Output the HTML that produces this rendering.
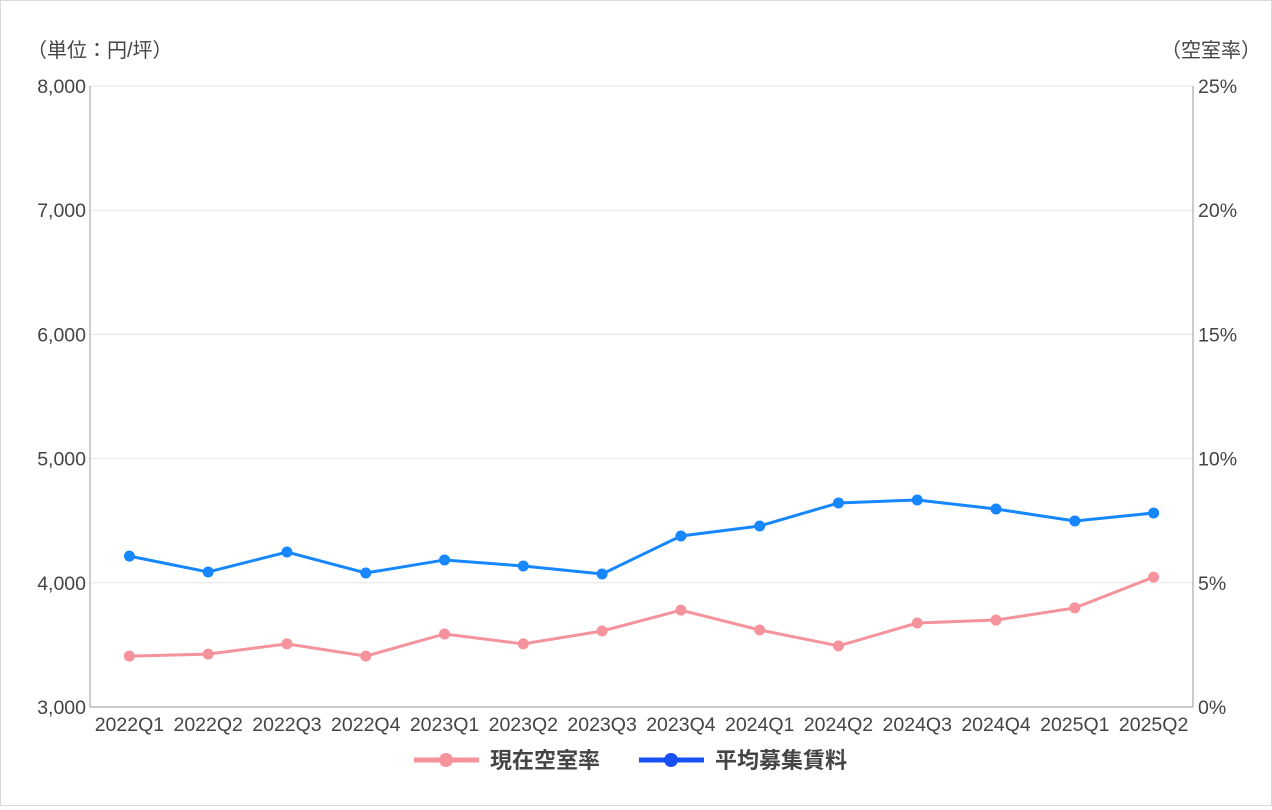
<!DOCTYPE html>
<html><head><meta charset="utf-8"><style>
body{margin:0;background:#fff;}
#wrap{position:relative;width:1270px;height:804px;border:1px solid #d9d9d9;background:#fff;font-family:"Liberation Sans","Noto Sans CJK JP",sans-serif;}
svg text{font-family:"Liberation Sans","Noto Sans CJK JP",sans-serif;}
</style></head><body>
<div id="wrap">
<svg id="chart" width="1270" height="804"></svg>
</div>
<script>
const categories=["2022Q1","2022Q2","2022Q3","2022Q4","2023Q1","2023Q2","2023Q3","2023Q4","2024Q1","2024Q2","2024Q3","2024Q4","2025Q1","2025Q2"];
const rentValues=[4215,4087,4248,4079,4184,4135,4071,4377,4457,4643,4667,4594,4498,4562];
const vacancyValues=[2.05,2.13,2.54,2.05,2.94,2.54,3.06,3.9,3.1,2.46,3.38,3.5,3.99,5.23];
const leftTicks=[3000,4000,5000,6000,7000,8000];
const rightTicks=[0,5,10,15,20,25];
const NS="http://www.w3.org/2000/svg";
const svg=document.getElementById('chart');
const X0=89,X1=1192,Y0=706,Y1=85;
const band=(X1-X0)/categories.length;
function xPos(i){return X0+band*(i+0.5);}
function yL(v){return Y0-(v-3000)/5000*(Y0-Y1);}
function yR(v){return Y0-v/25*(Y0-Y1);}
function mk(tag,attrs){const e=document.createElementNS(NS,tag);for(const k in attrs)e.setAttribute(k,attrs[k]);svg.appendChild(e);return e;}
leftTicks.forEach(t=>{
 const g=mk('line',{x1:X0,x2:X1,y1:yL(t),y2:yL(t),stroke:t===3000?'#999':'#e6e6e6','stroke-width':1});
 
 
 const tx=mk('text',{x:X0-4,y:yL(t)+7,'text-anchor':'end','font-size':19.5,fill:'#444'});
 tx.textContent=t.toLocaleString('en-US');
 
 
});
rightTicks.forEach(t=>{
 const tx=mk('text',{x:X1+5,y:yR(t)+7,'text-anchor':'start','font-size':19.5,fill:'#444'});
 tx.textContent=t+'%';
 
 
});
const la=mk('line',{x1:X0,x2:X0,y1:Y1,y2:Y0,stroke:'#999'});


const ra=mk('line',{x1:X1,x2:X1,y1:Y1,y2:Y0,stroke:'#999'});


categories.forEach((c,i)=>{
 const tx=mk('text',{x:xPos(i),y:Y0+24,'text-anchor':'middle','font-size':19.5,fill:'#444'});
 tx.textContent=c;
 
 
});
const t1=mk('text',{x:26,y:56,'font-size':20,fill:'#444'});
t1.textContent='（単位：円/坪）';


const t2=mk('text',{x:1260,y:56,'text-anchor':'end','font-size':20,fill:'#444'});
t2.textContent='（空室率）';


function series(vals,yf,color,name){
 const p=mk('polyline',{points:vals.map((v,i)=>xPos(i)+','+yf(v)).join(' '),fill:'none',stroke:color,'stroke-width':3});
 
 
 vals.forEach((v,i)=>{
  const c=mk('circle',{cx:xPos(i),cy:yf(v),r:5.5,fill:color});
  
  
 });
}
series(vacancyValues,yR,'#f5939d','vacancy');
series(rentValues,yL,'#1787ff','rent');
const l1=mk('line',{x1:413,x2:478,y1:759,y2:759,stroke:'#f5939d','stroke-width':5});


const c1=mk('circle',{cx:445,cy:759,r:7,fill:'#f5939d'});


const lt1=mk('text',{x:489,y:767,'font-size':22,'font-weight':'bold',fill:'#444'});
lt1.textContent='現在空室率';


const l2=mk('line',{x1:638,x2:703,y1:759,y2:759,stroke:'#1750f5','stroke-width':5});


const c2=mk('circle',{cx:670,cy:759,r:7,fill:'#1750f5'});


const lt2=mk('text',{x:714,y:767,'font-size':22,'font-weight':'bold',fill:'#444'});
lt2.textContent='平均募集賃料';


</script>
</body></html>
